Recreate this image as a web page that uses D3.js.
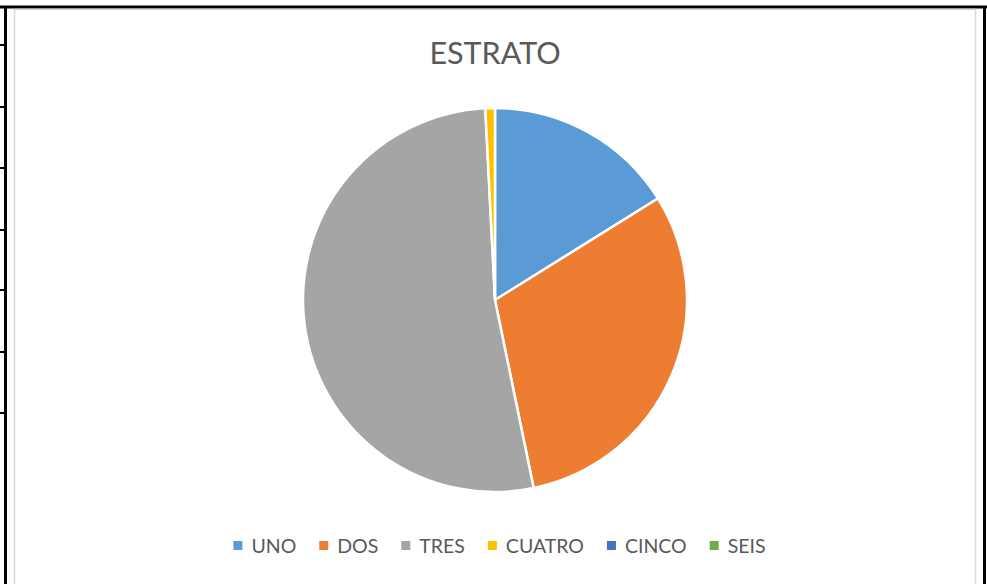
<!DOCTYPE html>
<html>
<head>
<meta charset="utf-8">
<script src="https://cdn.jsdelivr.net/npm/d3@7"></script>
<style>
  body { margin: 0; background: #fff; }
  text { font-family: Lato, "Open Sans", sans-serif; }
</style>
</head>
<body>
<div class="chart"></div>
<script>
// pie chart of ESTRATO, excel style

// data
var categories = ["UNO", "DOS", "TRES", "CUATRO", "CINCO", "SEIS"];
var values = [20, 38, 65, 1, 0, 0];
var colors = ["#5B9BD5", "#ED7D31", "#A5A5A5", "#FFC000", "#4472C4", "#70AD47"];
var title = "ESTRATO";

var svgWidth = 987;
var svgHeight = 584;

var svg = d3.select(".chart")
    .append("svg")
    .attr("width", svgWidth)
    .attr("height", svgHeight);

// spreadsheet cell lines behind the chart
svg.append("line")
    .attr("x1", 0).attr("x2", 987)
    .attr("y1", 7).attr("y2", 7)
    .attr("stroke", "#000").attr("stroke-width", 3);
svg.append("line")
    .attr("x1", 5.5).attr("x2", 5.5)
    .attr("y1", 6).attr("y2", 584)
    .attr("stroke", "#000").attr("stroke-width", 3);
svg.append("line")
    .attr("x1", 984.5).attr("x2", 984.5)
    .attr("y1", 6).attr("y2", 584)
    .attr("stroke", "#000").attr("stroke-width", 3);

var rowLines = [45, 107, 168, 230, 290, 352, 413];
svg.selectAll(".row")
    .data(rowLines)
    .enter().append("line")
    .attr("class", "row")
    .attr("x1", 0).attr("x2", 6)
    .attr("y1", function(d) { return d; })
    .attr("y2", function(d) { return d; })
    .attr("stroke", "#000").attr("stroke-width", 2);

// chart area
svg.append("rect")
    .attr("x", 14.5).attr("y", 9.5)
    .attr("width", 961).attr("height", 580)
    .attr("fill", "#fff")
    .attr("stroke", "#d9d9d9").attr("stroke-width", 1.5);

// title
svg.append("text")
    .attr("x", 495)
    .attr("y", 64)
    .attr("text-anchor", "middle")
    .attr("font-size", 30.5)
    .attr("fill", "#595959")
    .text(title);

// pie
var cx = 495, cy = 300, radius = 192;

var pie = d3.pie()
    .sort(null)
    .value(function(d) { return d; });

var arc = d3.arc()
    .innerRadius(0)
    .outerRadius(radius);

var g = svg.append("g")
    .attr("transform", "translate(" + cx + "," + cy + ")");

g.selectAll("path")
    .data(pie(values))
    .enter().append("path")
    .attr("d", arc)
    .attr("fill", function(d, i) { return colors[i]; })
    .attr("stroke", "#fff")
    .attr("stroke-width", function(d) { return d.value > 0 ? 2.5 : 0; });

// legend
var legend = svg.append("g");
var x = 0;
categories.forEach(function(c, i) {
    var item = legend.append("g").attr("transform", "translate(" + x + ",0)");
    item.append("rect")
        .attr("x", 0).attr("y", -5)
        .attr("width", 9).attr("height", 9)
        .attr("fill", colors[i]);
    var t = item.append("text")
        .attr("x", 18)
        .attr("y", 7)
        .attr("font-size", 19.5)
        .attr("fill", "#595959")
        .text(c);
    x += 18 + t.node().getComputedTextLength() + 23;
});
var legendWidth = x - 23;
legend.attr("transform", "translate(" + (499.5 - legendWidth / 2) + ",546)");
</script>
</body>
</html>
